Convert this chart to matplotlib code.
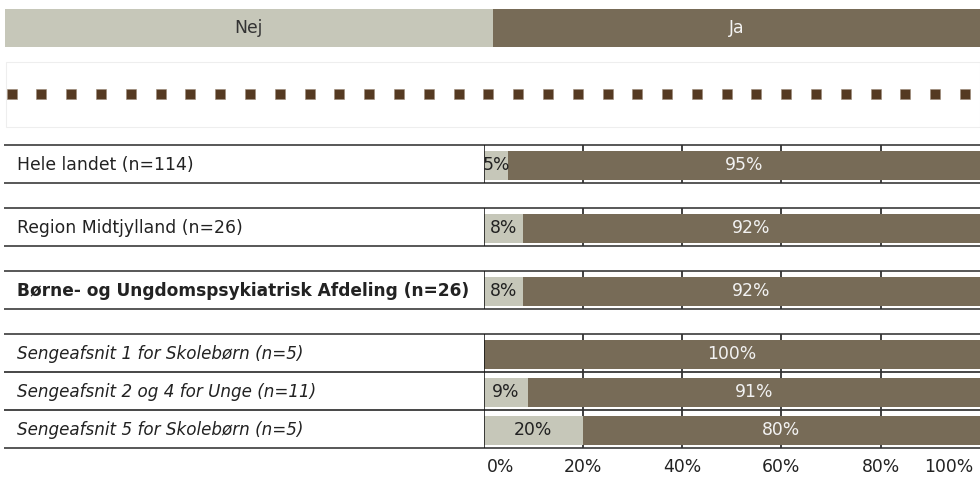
import matplotlib
matplotlib.use("Agg")
import matplotlib.pyplot as plt
from matplotlib.patches import Rectangle
import numpy as np

# ---- data -------------------------------------------------------------
categories = [
    "Hele landet (n=114)",
    "Region Midtjylland (n=26)",
    "Børne- og Ungdomspsykiatrisk Afdeling (n=26)",
    "Sengeafsnit 1 for Skolebørn (n=5)",
    "Sengeafsnit 2 og 4 for Unge (n=11)",
    "Sengeafsnit 5 for Skolebørn (n=5)",
]
label_styles = ["normal", "normal", "bold", "italic", "italic", "italic"]
nej = [5, 8, 8, 0, 9, 20]
ja = [95, 92, 92, 100, 91, 80]
header_labels = ["Nej", "Ja"]
tick_values = [0, 20, 40, 60, 80, 100]
tick_labels = ["0%", "20%", "40%", "60%", "80%", "100%"]

# ---- style ------------------------------------------------------------
plt.rcParams["font.family"] = ["DejaVu Sans"]
NEJ_COLOR = "#C6C7B9"
JA_COLOR = "#776B57"
DOT_COLOR = "#553A22"
BORDER = "#4A4A4A"
FS = 12.4

W, H = 980, 480
fig = plt.figure(figsize=(W / 100, H / 100), dpi=100)

# overlay in pixel units for the table frame and the header
frame = fig.add_axes([0, 0, 1, 1])
frame.set_xlim(0, W)
frame.set_ylim(H, 0)
frame.axis("off")

# header band
head_x0, head_x1, head_y0, head_y1 = 5, W, 9, 46.5
head_w = (head_x1 - head_x0) / 2
for i, (lab, col) in enumerate(zip(header_labels, [NEJ_COLOR, JA_COLOR])):
    x0 = head_x0 + i * head_w
    frame.add_patch(Rectangle((x0, head_y0), head_w, head_y1 - head_y0,
                              facecolor=col, edgecolor="none"))
    frame.text(x0 + head_w / 2, (head_y0 + head_y1) / 2, lab,
               ha="center", va="center", fontsize=FS,
               color="#333333" if i == 0 else "#F4F4F4")

# dotted separator box
frame.add_patch(Rectangle((6, 62), W - 6, 65, facecolor="white",
                          edgecolor="#EEEEEE", lw=0.8))
dot_x = np.linspace(11.7, 965, 33)
frame.plot(dot_x, np.full_like(dot_x, 93.5), ls="none", marker="s",
           ms=7.4, mfc=DOT_COLOR, mec="#9C8A78", mew=0.4)

# row layout (pixel rows)
row_h = 38.0
row_tops = []
y = 144.5
for i in range(len(categories)):
    row_tops.append(y)
    y += row_h
    if i < 3:
        y += 25
split_x = 483.5

for top, lab, sty in zip(row_tops, categories, label_styles):
    bot = top + row_h
    frame.hlines([top, bot], 4, W, color=BORDER, lw=1.3, zorder=4)
    kw = {"fontsize": FS}
    if sty == "bold":
        kw.update(fontweight="bold", fontsize=12.25)
    elif sty == "italic":
        kw.update(fontstyle="italic", fontsize=12.1)
    frame.text(17, top + row_h / 2 + 1.5, lab, ha="left", va="center",
               color="#222222", **kw)

# ---- bars ------------------------------------------------------------
ax = fig.add_axes([split_x / W, 0, (W - split_x) / W, 1])
ax.set_xlim(0, 100)
ax.set_ylim(H, 0)
ax.axis("off")

bar_h = 29
for top, n, j in zip(row_tops, nej, ja):
    bot = top + row_h
    yc = top + row_h / 2 + 1.5
    ax.vlines([20, 40, 60, 80], top, bot, color="#333333", lw=1.3, zorder=1)
    ax.vlines([0], top, bot, color="#111111", lw=1.1, zorder=5)
    ax.barh(yc, n, height=bar_h, left=0, color=NEJ_COLOR, zorder=2)
    ax.barh(yc, j, height=bar_h, left=n, color=JA_COLOR, zorder=2)
    if n > 0:
        ax.text(n / 2, yc, f"{n}%", ha="center", va="center",
                fontsize=FS, color="#222222", zorder=6)
    if j > 0:
        ax.text(n + j / 2, yc, f"{j}%", ha="center", va="center",
                fontsize=FS, color="#F2F2F2", zorder=6)

# percent scale along the bottom
for v, t in zip(tick_values, tick_labels):
    if v == tick_values[0]:
        ha, dx = "left", 3
    elif v == tick_values[-1]:
        ha, dx = "right", -7
    else:
        ha, dx = "center", 0
    ax.annotate(t, xy=(v, 467), xytext=(dx, 0), textcoords="offset pixels",
                ha=ha, va="center", fontsize=FS, color="#222222",
                annotation_clip=False)

fig.savefig("out.png", dpi=100)
